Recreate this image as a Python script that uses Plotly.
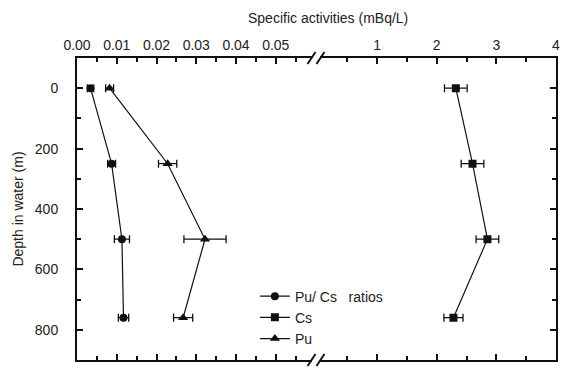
import plotly.graph_objects as go

# Depth profile (m)
depth = [0, 250, 500, 760]

# Pu/Cs activity ratios
ratio = [0.0034, 0.0087, 0.0113, 0.0117]
ratio_err = [0.0008, 0.0010, 0.0019, 0.0013]

# 239+240Pu specific activity (mBq/L)
pu = [0.0082, 0.0228, 0.0322, 0.0267]
pu_err = [0.0010, 0.0023, 0.0053, 0.0024]

# 137Cs specific activity (mBq/L)
cs = [2.32, 2.60, 2.85, 2.28]
cs_err = [0.19, 0.19, 0.19, 0.16]

left_ticks = [0.00, 0.01, 0.02, 0.03, 0.04, 0.05]
left_labels = ["0.00", "0.01", "0.02", "0.03", "0.04", "0.05"]
right_ticks = [1, 2, 3, 4]
depth_ticks = [0, 200, 400, 600, 800]

INK = "#111111"
TXT = "#222222"
FONT = "Liberation Sans, Arial, sans-serif"
FS = 14

W, H = 567, 369
ML, MR, MT, MB = 77, 8, 58, 7
PW = W - ML - MR
PH = H - MT - MB

# break gap between the two x segments (paper fraction)
brk_a = (313 - ML) / PW
brk_b = (322 - ML) / PW

err_style = dict(type="data", thickness=1.3, width=4, color=INK)

fig = go.Figure()
fig.add_trace(go.Scatter(
    x=ratio, y=depth, name="Pu/ Cs   ratios", mode="lines+markers",
    line=dict(color=INK, width=1.2),
    marker=dict(symbol="circle", size=8, color=INK),
    error_x=dict(array=ratio_err, **err_style),
    xaxis="x", yaxis="y"))
fig.add_trace(go.Scatter(
    x=cs, y=depth, name="Cs", mode="lines+markers",
    line=dict(color=INK, width=1.2),
    marker=dict(symbol="square", size=8, color=INK),
    error_x=dict(array=cs_err, **err_style),
    xaxis="x2", yaxis="y2"))
fig.add_trace(go.Scatter(
    x=pu, y=depth, name="Pu", mode="lines+markers",
    line=dict(color=INK, width=1.2),
    marker=dict(symbol="triangle-up", size=9, color=INK),
    error_x=dict(array=pu_err, **err_style),
    xaxis="x", yaxis="y"))

axis_common = dict(
    showline=True, linecolor=INK, linewidth=2, showgrid=False, zeroline=False,
    ticks="inside", tickcolor=INK, tickwidth=1.5, ticklen=6,
    tickfont=dict(family=FONT, size=FS, color=TXT),
)

fig.update_layout(
    width=W, height=H,
    margin=dict(l=ML, r=MR, t=MT, b=MB),
    paper_bgcolor="white", plot_bgcolor="white",
    font=dict(family=FONT, size=FS, color=TXT),
    xaxis=dict(
        domain=[0, brk_a], range=[0, (313 - ML) / 4000], side="top",
        anchor="y", mirror="ticks",
        tickvals=left_ticks, ticktext=left_labels,
        minor=dict(dtick=0.005, tick0=0, ticks="inside", ticklen=4,
                   tickwidth=1.5, tickcolor=INK),
        **axis_common),
    xaxis2=dict(
        domain=[brk_b, 1], range=[1 - (379 - 322) / 60, 4], side="top",
        anchor="y2", mirror="ticks",
        tickvals=right_ticks,
        minor=dict(dtick=0.5, tick0=0, ticks="inside", ticklen=4,
                   tickwidth=1.5, tickcolor=INK),
        **axis_common),
    yaxis=dict(
        range=[900, -100], anchor="x", side="left",
        tickvals=depth_ticks, ticklabelstandoff=14,
        minor=dict(dtick=100, tick0=0, ticks="inside", ticklen=4,
                   tickwidth=1.5, tickcolor=INK),
        title=dict(text="Depth in water (m)", standoff=8,
                   font=dict(family=FONT, size=FS, color=TXT)),
        **axis_common),
    yaxis2=dict(
        range=[900, -100], anchor="x2", side="right", matches="y",
        tickvals=depth_ticks, showticklabels=False,
        minor=dict(dtick=100, tick0=0, ticks="inside", ticklen=4,
                   tickwidth=1.5, tickcolor=INK),
        **axis_common),
    showlegend=True,
    legend=dict(
        x=(256 - ML) / PW, y=1 - (282 - MT) / PH, xanchor="left", yanchor="top",
        bgcolor="rgba(0,0,0,0)", font=dict(family=FONT, size=FS, color=TXT),
        itemwidth=30, tracegroupgap=0),
    annotations=[dict(
        text="Specific activities (mBq/L)", xref="paper", yref="paper",
        x=(330 - ML) / PW, y=1 + (MT - 18) / PH, xanchor="center", yanchor="middle",
        showarrow=False, font=dict(family=FONT, size=FS, color=TXT))],
)

# "//" axis-break marks on top and bottom frame lines
dx = 4 / PW
dy = 6 / PH
shapes = []
for yb in (0, 1):
    for xb in (brk_a, brk_b):
        shapes.append(dict(type="line", xref="paper", yref="paper",
                           x0=xb - dx, y0=yb - dy, x1=xb + dx, y1=yb + dy,
                           line=dict(color=INK, width=2)))
fig.update_layout(shapes=shapes)

fig.write_html("out.html")
